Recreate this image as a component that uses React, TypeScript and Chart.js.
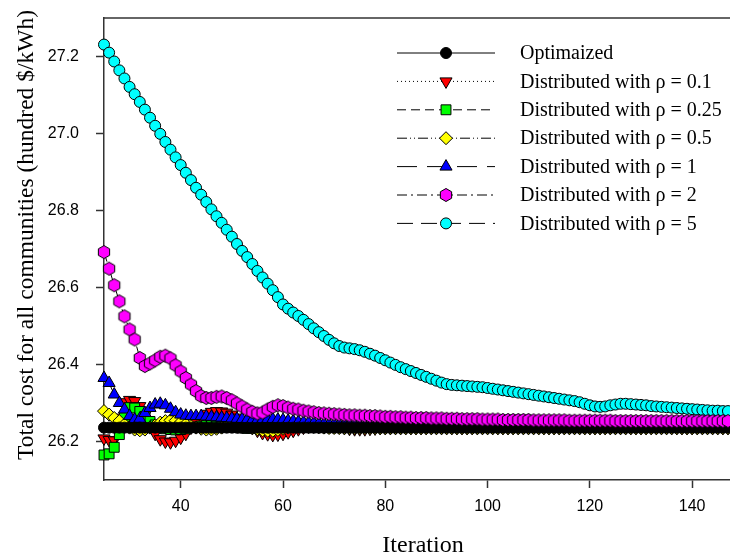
import React, { useEffect, useRef } from 'react';
import { Chart, registerables } from 'chart.js';
import { drawPoint } from 'chart.js/helpers';

Chart.register(...registerables);

const firstIteration = 25;
const xTicks = [40, 60, 80, 100, 120, 140];
const yTicks = [26.2, 26.4, 26.6, 26.8, 27.0, 27.2];

const optimized = [
  26.236, 26.236, 26.236, 26.236, 26.236, 26.236, 26.236, 26.236, 26.236, 26.236,
  26.236, 26.236, 26.236, 26.236, 26.236, 26.236, 26.236, 26.236, 26.236, 26.236,
  26.236, 26.236, 26.236, 26.236, 26.236, 26.236, 26.236, 26.236, 26.236, 26.236,
  26.236, 26.236, 26.236, 26.236, 26.236, 26.236, 26.236, 26.236, 26.236, 26.236,
  26.236, 26.236, 26.236, 26.236, 26.236, 26.236, 26.236, 26.236, 26.236, 26.236,
  26.236, 26.236, 26.236, 26.236, 26.236, 26.236, 26.236, 26.236, 26.236, 26.236,
  26.236, 26.236, 26.236, 26.236, 26.236, 26.236, 26.236, 26.236, 26.236, 26.236,
  26.236, 26.236, 26.236, 26.236, 26.236, 26.236, 26.236, 26.236, 26.236, 26.236,
  26.236, 26.236, 26.236, 26.236, 26.236, 26.236, 26.236, 26.236, 26.236, 26.236,
  26.236, 26.236, 26.236, 26.236, 26.236, 26.236, 26.236, 26.236, 26.236, 26.236,
  26.236, 26.236, 26.236, 26.236, 26.236, 26.236, 26.236, 26.236, 26.236, 26.236,
  26.236, 26.236, 26.236, 26.236, 26.236, 26.236, 26.236, 26.236, 26.236, 26.236,
  26.236, 26.236, 26.236,
];

const rho01 = [
  26.208, 26.204, 26.203, 26.262, 26.302, 26.308, 26.305, 26.292, 26.268, 26.242,
  26.220, 26.206, 26.200, 26.198, 26.202, 26.210, 26.220, 26.236, 26.252, 26.264,
  26.272, 26.277, 26.279, 26.278, 26.275, 26.270, 26.262, 26.252, 26.243, 26.235,
  26.228, 26.222, 26.219, 26.217, 26.218, 26.220, 26.224, 26.228, 26.232, 26.236,
  26.239, 26.241, 26.242, 26.242, 26.241, 26.239, 26.237, 26.235, 26.233, 26.232,
  26.232, 26.232, 26.233, 26.234, 26.235, 26.235, 26.235, 26.235, 26.235, 26.235,
  26.235, 26.235, 26.235, 26.235, 26.235, 26.235, 26.235, 26.235, 26.235, 26.235,
  26.235, 26.235, 26.235, 26.235, 26.235, 26.235, 26.235, 26.235, 26.235, 26.235,
  26.235, 26.235, 26.235, 26.235, 26.235, 26.235, 26.235, 26.235, 26.235, 26.235,
  26.235, 26.235, 26.235, 26.235, 26.235, 26.235, 26.235, 26.235, 26.235, 26.235,
  26.235, 26.235, 26.235, 26.235, 26.235, 26.235, 26.235, 26.235, 26.235, 26.235,
  26.235, 26.235, 26.235, 26.235, 26.235, 26.235, 26.235, 26.235, 26.235, 26.235,
  26.235, 26.235, 26.235,
];

const rho025 = [
  26.165, 26.168, 26.185, 26.218, 26.265, 26.288, 26.287, 26.278, 26.265, 26.252,
  26.243, 26.237, 26.233, 26.231, 26.230, 26.231, 26.233, 26.236, 26.238, 26.240,
  26.241, 26.241, 26.240, 26.239, 26.238, 26.237, 26.236, 26.235, 26.234, 26.234,
  26.234, 26.234, 26.235, 26.235, 26.236, 26.236, 26.237, 26.237, 26.237, 26.237,
  26.236, 26.236, 26.236, 26.236, 26.236, 26.236, 26.236, 26.236, 26.236, 26.236,
  26.236, 26.236, 26.236, 26.236, 26.236, 26.236, 26.236, 26.236, 26.236, 26.236,
  26.236, 26.236, 26.236, 26.236, 26.236, 26.236, 26.236, 26.236, 26.236, 26.236,
  26.236, 26.236, 26.236, 26.236, 26.236, 26.236, 26.236, 26.236, 26.236, 26.236,
  26.236, 26.236, 26.236, 26.236, 26.236, 26.236, 26.236, 26.236, 26.236, 26.236,
  26.236, 26.236, 26.236, 26.236, 26.236, 26.236, 26.236, 26.236, 26.236, 26.236,
  26.236, 26.236, 26.236, 26.236, 26.236, 26.236, 26.236, 26.236, 26.236, 26.236,
  26.236, 26.236, 26.236, 26.236, 26.236, 26.236, 26.236, 26.236, 26.236, 26.236,
  26.236, 26.236, 26.236,
];

const rho05 = [
  26.279, 26.270, 26.261, 26.253, 26.244, 26.236, 26.231, 26.229, 26.231, 26.236,
  26.242, 26.249, 26.253, 26.255, 26.254, 26.250, 26.245, 26.240, 26.236, 26.233,
  26.231, 26.231, 26.233, 26.236, 26.240, 26.243, 26.244, 26.243, 26.240, 26.236,
  26.232, 26.229, 26.228, 26.228, 26.230, 26.233, 26.236, 26.239, 26.240, 26.240,
  26.239, 26.238, 26.237, 26.236, 26.235, 26.235, 26.235, 26.235, 26.235, 26.235,
  26.235, 26.235, 26.235, 26.235, 26.235, 26.235, 26.235, 26.235, 26.235, 26.235,
  26.235, 26.235, 26.235, 26.235, 26.235, 26.235, 26.235, 26.235, 26.235, 26.235,
  26.235, 26.235, 26.235, 26.235, 26.235, 26.235, 26.235, 26.235, 26.235, 26.235,
  26.235, 26.235, 26.235, 26.235, 26.235, 26.235, 26.235, 26.235, 26.235, 26.235,
  26.235, 26.235, 26.235, 26.235, 26.235, 26.235, 26.235, 26.235, 26.235, 26.235,
  26.235, 26.235, 26.235, 26.235, 26.235, 26.235, 26.235, 26.235, 26.235, 26.235,
  26.235, 26.235, 26.235, 26.235, 26.235, 26.235, 26.235, 26.235, 26.235, 26.235,
  26.235, 26.235, 26.235,
];

const rho1 = [
  26.365, 26.352, 26.322, 26.300, 26.283, 26.266, 26.257, 26.259, 26.274, 26.287,
  26.296, 26.298, 26.294, 26.285, 26.276, 26.270, 26.267, 26.266, 26.266, 26.266,
  26.265, 26.264, 26.263, 26.262, 26.261, 26.260, 26.259, 26.258, 26.257, 26.256,
  26.256, 26.257, 26.258, 26.258, 26.257, 26.256, 26.254, 26.253, 26.251, 26.250,
  26.249, 26.248, 26.247, 26.246, 26.245, 26.245, 26.244, 26.243, 26.243, 26.242,
  26.242, 26.241, 26.241, 26.240, 26.240, 26.239, 26.239, 26.238, 26.238, 26.238,
  26.237, 26.237, 26.237, 26.237, 26.237, 26.237, 26.237, 26.237, 26.237, 26.237,
  26.237, 26.237, 26.237, 26.237, 26.237, 26.237, 26.237, 26.237, 26.237, 26.237,
  26.236, 26.236, 26.236, 26.236, 26.236, 26.236, 26.236, 26.236, 26.236, 26.236,
  26.236, 26.236, 26.236, 26.236, 26.236, 26.236, 26.236, 26.236, 26.236, 26.236,
  26.236, 26.236, 26.236, 26.236, 26.236, 26.236, 26.236, 26.236, 26.236, 26.236,
  26.236, 26.236, 26.236, 26.236, 26.236, 26.236, 26.236, 26.236, 26.236, 26.236,
  26.236, 26.236, 26.236,
];

const rho2 = [
  26.692, 26.649, 26.606, 26.564, 26.525, 26.491, 26.465, 26.417, 26.396, 26.403,
  26.411, 26.420, 26.423, 26.416, 26.398, 26.382, 26.365, 26.348, 26.331, 26.318,
  26.313, 26.313, 26.316, 26.317, 26.313, 26.307, 26.299, 26.291, 26.283, 26.277,
  26.273, 26.275, 26.283, 26.290, 26.294, 26.292, 26.288, 26.285, 26.283, 26.280,
  26.278, 26.276, 26.274, 26.273, 26.272, 26.271, 26.270, 26.269, 26.268, 26.268,
  26.267, 26.267, 26.266, 26.266, 26.265, 26.264, 26.264, 26.263, 26.263, 26.262,
  26.262, 26.261, 26.261, 26.261, 26.260, 26.260, 26.260, 26.259, 26.259, 26.259,
  26.258, 26.258, 26.258, 26.258, 26.257, 26.257, 26.257, 26.257, 26.256, 26.256,
  26.256, 26.256, 26.256, 26.256, 26.255, 26.255, 26.255, 26.255, 26.255, 26.255,
  26.255, 26.254, 26.254, 26.254, 26.254, 26.254, 26.254, 26.254, 26.254, 26.254,
  26.253, 26.253, 26.253, 26.253, 26.253, 26.253, 26.253, 26.253, 26.253, 26.253,
  26.253, 26.253, 26.253, 26.253, 26.253, 26.253, 26.253, 26.253, 26.253, 26.253,
  26.253, 26.253, 26.253,
];

const rho5 = [
  27.231, 27.210, 27.187, 27.164, 27.143, 27.121, 27.102, 27.082, 27.062, 27.041,
  27.020, 26.999, 26.978, 26.958, 26.938, 26.918, 26.898, 26.879, 26.859, 26.841,
  26.822, 26.803, 26.785, 26.768, 26.750, 26.732, 26.713, 26.695, 26.679, 26.661,
  26.643, 26.626, 26.610, 26.593, 26.575, 26.556, 26.545, 26.535, 26.526, 26.516,
  26.505, 26.494, 26.484, 26.474, 26.464, 26.455, 26.448, 26.444, 26.442, 26.440,
  26.437, 26.433, 26.428, 26.423, 26.417, 26.411, 26.405, 26.399, 26.393, 26.388,
  26.383, 26.378, 26.373, 26.368, 26.363, 26.358, 26.353, 26.349, 26.347, 26.346,
  26.345, 26.344, 26.343, 26.342, 26.341, 26.339, 26.337, 26.335, 26.333, 26.331,
  26.329, 26.327, 26.325, 26.323, 26.321, 26.319, 26.317, 26.315, 26.313, 26.311,
  26.309, 26.307, 26.305, 26.302, 26.298, 26.294, 26.291, 26.290, 26.291, 26.294,
  26.296, 26.298, 26.298, 26.297, 26.296, 26.295, 26.294, 26.292, 26.291, 26.290,
  26.289, 26.288, 26.287, 26.286, 26.285, 26.284, 26.283, 26.282, 26.281, 26.280,
  26.280, 26.279, 26.279,
];

const seriesLabels = [
  'Optimaized',
  'Distributed with ρ = 0.1',
  'Distributed with ρ = 0.25',
  'Distributed with ρ = 0.5',
  'Distributed with ρ = 1',
  'Distributed with ρ = 2',
  'Distributed with ρ = 5',
];
const seriesValues = [optimized, rho01, rho025, rho05, rho1, rho2, rho5];

const yTitle = 'Total cost for all communities (hundred $/kWh)';
const xTitle = 'Iteration';

function makeHexagon(r: number, fill: string): HTMLCanvasElement {
  const size = Math.ceil(r * 2 + 3);
  const c = document.createElement('canvas');
  c.width = size;
  c.height = size;
  const ctx = c.getContext('2d')!;
  const cx = size / 2;
  const cy = size / 2;
  ctx.beginPath();
  for (let i = 0; i < 6; i++) {
    const a = -Math.PI / 2 + (i * Math.PI) / 3;
    const px = cx + r * Math.cos(a);
    const py = cy + r * Math.sin(a);
    if (i === 0) ctx.moveTo(px, py);
    else ctx.lineTo(px, py);
  }
  ctx.closePath();
  ctx.fillStyle = fill;
  ctx.fill();
  ctx.lineWidth = 1;
  ctx.strokeStyle = '#000';
  ctx.stroke();
  return c;
}

export default function App() {
  const canvasRef = useRef<HTMLCanvasElement | null>(null);

  useEffect(() => {
    if (!canvasRef.current) return;
    const hex = makeHexagon(6.5, '#ff00ff');

    const styles = [
      { fill: '#000000', pointStyle: 'circle', radius: 5.5, rotation: 0, dash: [] as number[] },
      { fill: '#ff0000', pointStyle: 'triangle', radius: 7, rotation: 180, dash: [1, 3] },
      { fill: '#00ff00', pointStyle: 'rect', radius: 7, rotation: 0, dash: [9, 5] },
      { fill: '#ffff00', pointStyle: 'rectRot', radius: 6.5, rotation: 0, dash: [10, 3, 1, 3, 1, 3] },
      { fill: '#0000ff', pointStyle: 'triangle', radius: 7, rotation: 0, dash: [20, 10] },
      { fill: '#ff00ff', pointStyle: hex as any, radius: 6.5, rotation: 0, dash: [10, 4, 2, 4] },
      { fill: '#00ffff', pointStyle: 'circle', radius: 5.5, rotation: 0, dash: [16, 8] },
    ];
    const drawOrder = [2, 6, 5, 4, 3, 0, 1];

    const datasets = seriesValues.map((vals, i) => ({
      label: seriesLabels[i],
      data: vals.map((v, j) => ({ x: firstIteration + j, y: v })),
      borderColor: '#000',
      borderWidth: 1,
      borderDash: styles[i].dash,
      backgroundColor: styles[i].fill,
      pointBackgroundColor: styles[i].fill,
      pointBorderColor: '#000',
      pointBorderWidth: 1,
      pointRadius: styles[i].radius,
      pointStyle: styles[i].pointStyle,
      pointRotation: styles[i].rotation,
      showLine: true,
      tension: 0,
      clip: false as any,
      order: drawOrder[i],
    }));

    const decor = {
      id: 'decor',
      afterDraw(chart: any) {
        const ctx = chart.ctx as CanvasRenderingContext2D;
        const area = chart.chartArea;
        ctx.save();
        // top frame line
        ctx.strokeStyle = '#333';
        ctx.lineWidth = 1.5;
        ctx.beginPath();
        ctx.moveTo(area.left, area.top);
        ctx.lineTo(area.right, area.top);
        ctx.stroke();

        // axis titles
        ctx.fillStyle = '#000';
        ctx.textAlign = 'center';
        ctx.textBaseline = 'middle';
        ctx.font = '24px "Liberation Serif"';
        ctx.fillText(xTitle, 423, 546);
        ctx.save();
        ctx.font = '23.5px "Liberation Serif"';
        ctx.translate(27, 235);
        ctx.rotate(-Math.PI / 2);
        ctx.fillText(yTitle, 0, 0);
        ctx.restore();

        // legend
        const lineX0 = 397;
        const lineX1 = 495;
        const markX = 446;
        const textX = 520;
        const rowY0 = 53;
        const rowStep = 28.4;
        ctx.font = '20px "Liberation Serif"';
        ctx.textAlign = 'left';
        seriesLabels.forEach((label, i) => {
          const y = rowY0 + i * rowStep;
          const st = styles[i];
          ctx.save();
          ctx.strokeStyle = '#000';
          ctx.lineWidth = 1;
          ctx.setLineDash(st.dash);
          ctx.beginPath();
          ctx.moveTo(lineX0, y);
          ctx.lineTo(lineX1, y);
          ctx.stroke();
          ctx.setLineDash([]);
          ctx.fillStyle = st.fill;
          ctx.strokeStyle = '#000';
          ctx.lineWidth = 1;
          drawPoint(ctx, { pointStyle: st.pointStyle, rotation: st.rotation, radius: st.radius, borderWidth: 1 } as any, markX, y);
          ctx.restore();
          ctx.fillStyle = '#000';
          ctx.fillText(label, textX, y + 1);
        });
        ctx.restore();
      },
    };

    const chart = new Chart(canvasRef.current, {
      type: 'line',
      data: { datasets: datasets as any },
      options: {
        animation: false,
        responsive: false,
        maintainAspectRatio: false,
        layout: { autoPadding: false, padding: { top: 18, right: 0, left: 0, bottom: 0 } },
        plugins: {
          legend: { display: false },
          tooltip: { enabled: false },
        },
        scales: {
          x: {
            type: 'linear',
            min: 25,
            max: 147.4,
            afterBuildTicks: (axis: any) => {
              axis.ticks = xTicks.map((v) => ({ value: v }));
            },
            afterFit: (axis: any) => {
              axis.height = 80;
              axis.paddingLeft = 0;
              axis.paddingRight = 0;
            },
            grid: {
              drawOnChartArea: false,
              drawTicks: true,
              tickLength: 8,
              tickWidth: 1.5,
              tickColor: '#333',
            },
            border: { display: true, color: '#333', width: 1.5 },
            ticks: {
              color: '#000',
              font: { family: 'Liberation Sans', size: 16 },
              padding: 9,
              maxRotation: 0,
              callback: (v: any) => String(v),
            },
          },
          y: {
            type: 'linear',
            min: 26.1,
            max: 27.3,
            afterBuildTicks: (axis: any) => {
              axis.ticks = yTicks.map((v) => ({ value: v }));
            },
            afterFit: (axis: any) => {
              axis.width = 104;
              axis.paddingTop = 0;
              axis.paddingBottom = 0;
            },
            grid: {
              drawOnChartArea: false,
              drawTicks: true,
              tickLength: 8,
              tickWidth: 1.5,
              tickColor: '#333',
            },
            border: { display: true, color: '#333', width: 1.5 },
            ticks: {
              color: '#000',
              font: { family: 'Liberation Sans', size: 16 },
              padding: 17,
              callback: (v: any) => Number(v).toFixed(1),
            },
          },
        },
      },
      plugins: [decor],
    });

    return () => chart.destroy();
  }, []);

  return (
    <div style={{ position: 'fixed', left: 0, top: 0, width: 730, height: 560, background: '#fff' }}>
      <canvas ref={canvasRef} width={730} height={560} style={{ display: 'block', width: 730, height: 560 }} />
    </div>
  );
}
